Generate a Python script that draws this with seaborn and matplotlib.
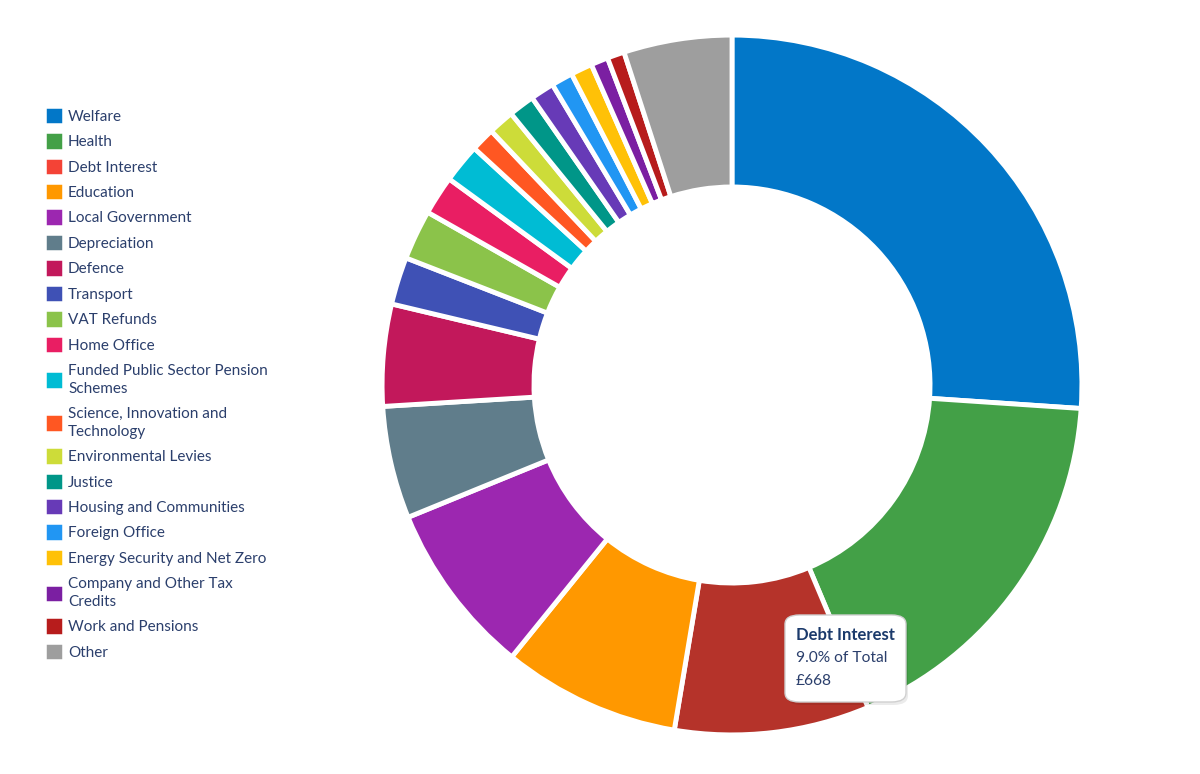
import matplotlib
matplotlib.use('Agg')
import matplotlib.pyplot as plt
import matplotlib.patches as mpatches
import seaborn as sns

categorias = ['Welfare', 'Health', 'Debt Interest', 'Education', 'Local Government',
              'Depreciation', 'Defence', 'Transport', 'VAT Refunds', 'Home Office',
              'Funded Public Sector Pension\nSchemes', 'Science, Innovation and\nTechnology',
              'Environmental Levies', 'Justice', 'Housing and Communities', 'Foreign Office',
              'Energy Security and Net Zero', 'Company and Other Tax\nCredits',
              'Work and Pensions', 'Other']
valores = [1937, 1306, 668, 609, 594, 386, 349, 163, 171, 134,
           134, 82, 89, 89, 82, 74, 74, 59, 59, 371]
colores = ['#0277C8', '#43A047', '#F44336', '#FF9800', '#9C27B0',
           '#607D8B', '#C2185B', '#3F51B5', '#8BC34A', '#E91E63',
           '#00BCD4', '#FF5722', '#CDDC39', '#009688', '#673AB7',
           '#2196F3', '#FFC107', '#7B1FA2', '#B71C1C', '#9E9E9E']
resaltado = 'Debt Interest'
color_resaltado = '#B5332A'

sns.set_theme(style='white')
plt.rcParams['font.family'] = ['Lato', 'DejaVu Sans']
paleta = sns.color_palette(colores)
texto = '#2B3F6C'

fig = plt.figure(figsize=(12, 7.74), dpi=100)
fig.patch.set_facecolor('white')

# donut: centro (732, 385) px, radio 350 px
ax = fig.add_axes([(732 - 352) / 1200, (774 - 385 - 352) / 774, 704 / 1200, 704 / 774])
colores_pie = [color_resaltado if c == resaltado else col for c, col in zip(categorias, paleta)]
ax.pie(valores, colors=colores_pie, startangle=90, counterclock=False,
       wedgeprops=dict(width=0.434, edgecolor='white', linewidth=3.5, joinstyle='round'))
ax.set_xlim(-1.006, 1.006)
ax.set_ylim(-1.006, 1.006)
ax.set_aspect('equal')
ax.axis('off')

# leyenda
parches = [mpatches.Patch(facecolor=col, edgecolor=col, linewidth=2.5, joinstyle='round', label=cat)
           for cat, col in zip(categorias, paleta)]
leg = fig.legend(handles=parches, loc='upper left', bbox_to_anchor=(40 / 1200, 1 - 102 / 774),
                 frameon=False, fontsize=11, handlelength=0.78, handleheight=0.78,
                 handletextpad=0.56, labelspacing=0.745, borderpad=0)
for t in leg.get_texts():
    t.set_color(texto)
    t.set_linespacing(1.33)

# tooltip
x0, y0, w, h = 785, 615, 121, 87
sombra = mpatches.FancyBboxPatch(((x0 + 2) / 1200, 1 - (y0 + h + 3) / 774), w / 1200, h / 774,
                                 boxstyle='round,pad=0,rounding_size=0.012', transform=fig.transFigure,
                                 facecolor='#000000', alpha=0.08, edgecolor='none', zorder=5)
caja = mpatches.FancyBboxPatch((x0 / 1200, 1 - (y0 + h) / 774), w / 1200, h / 774,
                               boxstyle='round,pad=0,rounding_size=0.012', transform=fig.transFigure,
                               facecolor='white', edgecolor='#D0D0D0', linewidth=1, zorder=6)
fig.patches.extend([sombra, caja])
idx = categorias.index(resaltado)
pct = valores[idx] / sum(valores) * 100
fig.text(796 / 1200, 1 - 635 / 774, resaltado, fontsize=12, fontweight='bold', color='#1B3A6B',
         va='center', zorder=7)
fig.text(796 / 1200, 1 - 658 / 774, f'{pct:.1f}% of Total', fontsize=11.2, color=texto,
         va='center', zorder=7)
fig.text(796 / 1200, 1 - 681 / 774, f'£{valores[idx]}', fontsize=11.2, color=texto,
         va='center', zorder=7)

fig.savefig('out.png', dpi=100, facecolor='white')
